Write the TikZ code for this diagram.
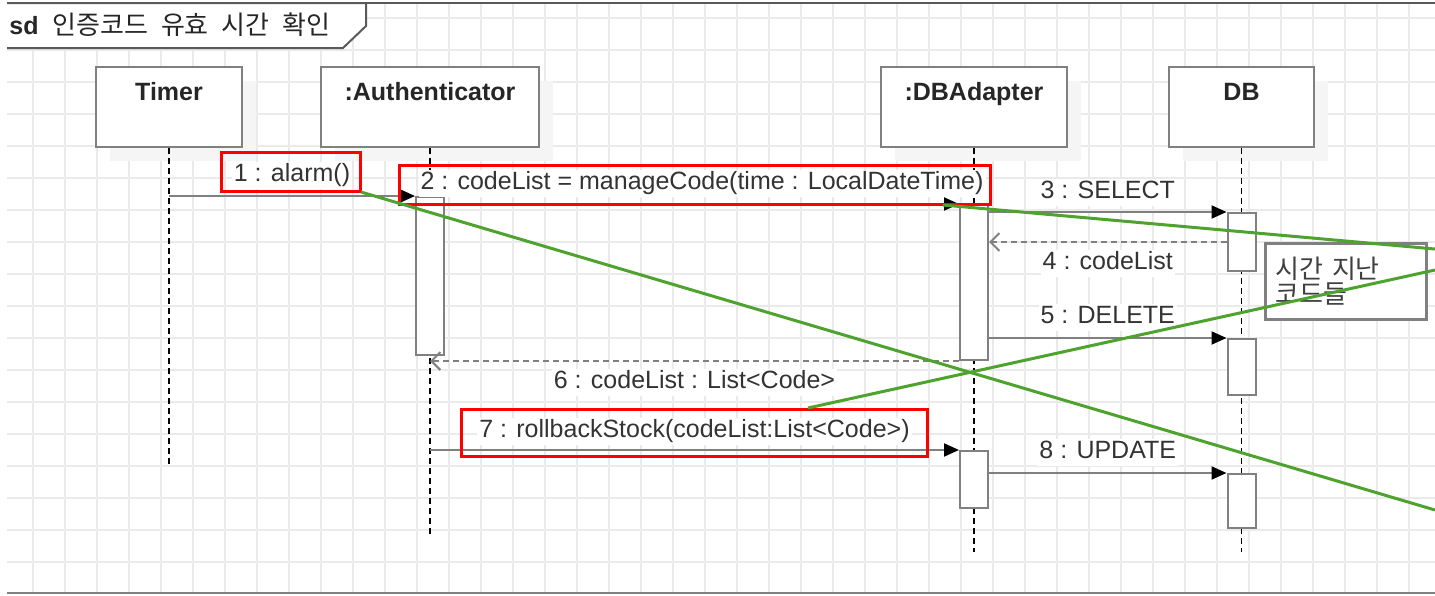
\documentclass[tikz,border=0pt]{standalone}
\usepackage{fontspec}
\setmainfont{Liberation Sans}
\newfontfamily\krfont[WordSpace=2.2]{Noto Sans CJK KR}
\usetikzlibrary{arrows.meta,positioning,shadows}

\definecolor{umlgray}{RGB}{128,128,128}
\definecolor{gridgray}{RGB}{234,234,234}
\definecolor{markred}{RGB}{255,0,0}
\definecolor{markgreen}{RGB}{78,162,46}

\begin{document}
\begin{tikzpicture}[x=0.5pt, y=-0.5pt,
    gridline/.style={gridgray, line width=0.8pt},
    lifehead/.style={draw=umlgray, line width=1.2pt, fill=white,
      minimum height=40pt, inner ysep=3pt, text height=13.5pt, text depth=20.5pt,
      font=\bfseries\fontsize{12.5}{15}\selectfont, text=black!85,
      general shadow={fill=black!4, shadow xshift=7pt, shadow yshift=-7pt}},
    actbar/.style={draw=umlgray, line width=1pt, fill=white,
      minimum width=14pt, inner sep=0pt},
    lifeline/.style={black, line width=0.6pt, dash pattern=on 3pt off 2pt},
    call/.style={draw=umlgray, line width=1pt,
      -{Triangle[length=7.5pt, width=6.5pt, color=black]}},
    reply/.style={draw=umlgray, line width=1pt, dash pattern=on 3pt off 2pt,
      -{Straight Barb[length=4.5pt, width=9pt]}},
    lbl/.style={font=\fontsize{12.5}{15}\selectfont, text=black!80, fill=white,
      inner sep=1pt, text height=9pt, text depth=2.5pt},
    notebox/.style={draw=umlgray, line width=1.5pt, fill=white,
      minimum width=80.5pt, minimum height=38pt, inner xsep=5pt,
      text width=70pt, align=left, text=black!75,
      font=\krfont\fontsize{13}{12.5}\selectfont},
    redmark/.style={draw=markred, line width=1.5pt},
    greenmark/.style={markgreen, line width=1.5pt}
  ]
  \useasboundingbox (0,0) rectangle (1435,595);

  % background grid and frame
  \foreach \gx in {33,65,...,1435} \draw[gridline] (\gx,3) -- (\gx,593);
  \foreach \gy in {18,50,...,590} \draw[gridline] (7,\gy) -- (1435,\gy);
  \draw[umlgray!70!black, line width=1pt] (7,3) -- (1435,3);
  \draw[umlgray, line width=1pt] (7,593) -- (1435,593);

  % frame tag
  \fill[white] (7,3) -- (366,3) -- (366,26) -- (343,48) -- (7,48) -- cycle;
  \draw[umlgray!70!black, line width=1pt] (7,3) -- (366,3) -- (366,26) -- (343,48) -- (7,48);
  \node[anchor=west, inner sep=0pt, text=black!85, font=\fontsize{12.5}{15}\selectfont]
    (frametag) at (9,25) {\textbf{sd}\hspace{7pt}{\krfont\fontsize{13}{15}\selectfont 인증코드 유효 시간 확인}};

  % lifeline heads
  \node[lifehead, minimum width=73pt]   (timer)     at (169,107)    {Timer};
  \node[lifehead, minimum width=109pt]  (auth)      at (430,107)    {:Authenticator};
  \node[lifehead, minimum width=93pt]   (dbadapter) at (974,107)    {:DBAdapter};
  \node[lifehead, minimum width=72.5pt] (db)        at (1241.5,107) {DB};

  % lifelines
  \coordinate (timerEnd) at (169,467);
  \coordinate (authEnd)  at (430,535);
  \coordinate (dbaEnd)   at (974,552);
  \coordinate (dbEnd)    at (1241.5,552);
  \draw[lifeline] (timer.south)     -- (timerEnd);
  \draw[lifeline] (auth.south)      -- (authEnd);
  \draw[lifeline] (dbadapter.south) -- (dbaEnd);
  \draw[lifeline] (db.south)        -- (dbEnd);

  % activations
  \node[actbar, minimum height=79pt]   (authBar) at (430,276)    {};
  \node[actbar, minimum height=77.5pt] (dbaBar1) at (974,282.5)  {};
  \node[actbar, minimum height=29pt]   (dbBar1)  at (1241.5,242) {};
  \node[actbar, minimum height=28pt]   (dbBar2)  at (1241.5,367) {};
  \node[actbar, minimum height=28.5pt] (dbaBar2) at (974,479.5)  {};
  \node[actbar, minimum height=27pt]   (dbBar3)  at (1241.5,501) {};

  % messages
  \draw[call] (timer |- authBar.north) -- (authBar.north west)
    node[lbl, midway, yshift=10.5pt] (m1) {1 : alarm()};
  \draw[call] (authBar.east |- dbaBar1.north) -- (dbaBar1.north west)
    node[lbl, midway, yshift=10.5pt] (m2) {2 : codeList = manageCode(time : LocalDateTime)};
  \draw[call] (dbaBar1.east |- dbBar1.north) -- (dbBar1.north west)
    node[lbl, midway, yshift=10pt] (m3) {3 : SELECT};
  \draw[reply] (dbBar1.west) -- (dbaBar1.east |- dbBar1.west)
    node[lbl, midway, yshift=-10.5pt] (m4) {4 : codeList};
  \draw[call] (dbaBar1.east |- dbBar2.north) -- (dbBar2.north west)
    node[lbl, midway, yshift=10.5pt] (m5) {5 : DELETE};
  \draw[reply] (dbaBar1.south west) -- (dbaBar1.south west -| authBar.south)
    node[lbl, midway, yshift=-10.5pt] (m6) {6 : codeList : List<Code>};
  \draw[call] (authBar.south |- dbaBar2.north) -- (dbaBar2.north west)
    node[lbl, midway, yshift=9.5pt] (m7) {7 : rollbackStock(codeList:List<Code>)};
  \draw[call] (dbaBar2.east |- dbBar3.north) -- (dbBar3.north west)
    node[lbl, midway, yshift=10.5pt] (m8) {8 : UPDATE};

  % note
  \node[notebox] (note) at (1345.5,281) {시간 지난\\코드들};

  % review marks
  \draw[redmark] (221,152) rectangle (360,191);
  \draw[redmark] (399,165) rectangle (990,204);
  \draw[redmark] (461,409) rectangle (927,456);
  \coordinate (gA0) at (361,192);
  \coordinate (gA1) at (1435,510);
  \coordinate (gB0) at (943,205);
  \coordinate (gB1) at (1435,249);
  \coordinate (gC0) at (808,408);
  \coordinate (gC1) at (1435,270);
  \draw[greenmark] (gA0) -- (gA1);
  \draw[greenmark] (gB0) -- (gB1);
  \draw[greenmark] (gC0) -- (gC1);
\end{tikzpicture}
\end{document}
